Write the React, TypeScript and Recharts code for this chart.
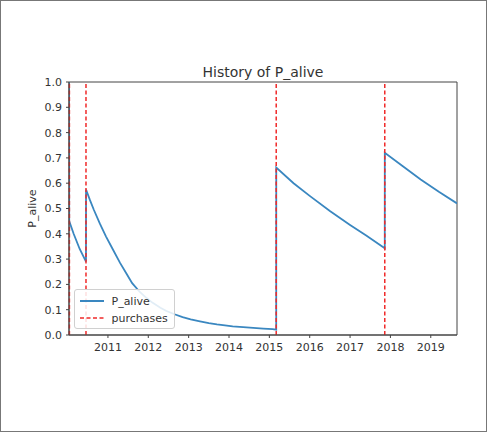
import {
  LineChart,
  Line,
  XAxis,
  YAxis,
  ReferenceLine,
  ReferenceArea,
  Label,
  Legend,
} from "recharts";

// dates in fractional years, P_alive
const dates = [
  2010.035, 2010.04, 2010.15, 2010.3, 2010.456,
  2010.457, 2010.55, 2010.65, 2010.8, 2010.95, 2011.1, 2011.3, 2011.45,
  2011.6, 2011.79, 2011.95, 2012.1, 2012.3, 2012.45, 2012.65, 2012.85,
  2013.05, 2013.28, 2013.5, 2013.7, 2013.9, 2014.09, 2014.35, 2014.6,
  2014.85, 2015.08, 2015.17,
  2015.171, 2015.6, 2016.0, 2016.5, 2017.0, 2017.4, 2017.86,
  2017.861, 2018.3, 2018.75, 2019.2, 2019.65,
];
const pAlive = [
  1.0, 0.45, 0.4, 0.34, 0.29,
  0.575, 0.535, 0.495, 0.44, 0.39, 0.345, 0.285, 0.245,
  0.205, 0.17, 0.147, 0.128, 0.108, 0.095, 0.082, 0.071,
  0.062, 0.054, 0.047, 0.042, 0.038, 0.034, 0.031, 0.028,
  0.025, 0.023, 0.021,
  0.662, 0.6, 0.55, 0.49, 0.435, 0.393, 0.343,
  0.72, 0.668, 0.615, 0.566, 0.52,
];
const purchases = [2010.045, 2010.456, 2015.17, 2017.86];

const xTicks = [2011, 2012, 2013, 2014, 2015, 2016, 2017, 2018, 2019];
const yTicks = [0, 0.1, 0.2, 0.3, 0.4, 0.5, 0.6, 0.7, 0.8, 0.9, 1.0];
const xDomain = [2010.035, 2019.65];

const data = dates.map((d, i) => ({ date: d, p: pAlive[i] }));

const FONT = "'DejaVu Sans', sans-serif";
const BLUE = "#3a87c0";
const RED = "#f02a2a";

function LegendBox() {
  const row = { display: "flex", alignItems: "center", height: 17 };
  return (
    <div
      style={{
        border: "1px solid #d0d0d0",
        borderRadius: 3,
        background: "rgba(255,255,255,0.85)",
        padding: "3px 0 3px 5px",
        fontFamily: FONT,
        fontSize: 11,
        color: "#333",
        boxSizing: "border-box",
        width: 101,
        height: 40,
      }}
    >
      <div style={row}>
        <svg width={24} height={6} style={{ marginRight: 8 }}>
          <line x1={0} y1={3} x2={24} y2={3} stroke={BLUE} strokeWidth={2} />
        </svg>
        <span>P_alive</span>
      </div>
      <div style={row}>
        <svg width={24} height={6} style={{ marginRight: 8 }}>
          <line
            x1={0}
            y1={3}
            x2={24}
            y2={3}
            stroke={RED}
            strokeWidth={1.6}
            strokeDasharray="4 2.5"
          />
        </svg>
        <span>purchases</span>
      </div>
    </div>
  );
}

export default function App() {
  return (
    <div
      style={{
        position: "absolute",
        left: 0,
        top: 0,
        width: 487,
        height: 432,
        border: "1.5px solid #777",
        boxSizing: "border-box",
        background: "#fff",
      }}
    >
      <div style={{ position: "absolute", left: -1.5, top: -1.5 }}>
        <LineChart
          width={487}
          height={433}
          data={data}
          margin={{ top: 82, right: 30, left: 0, bottom: 0 }}
        >
          <XAxis
            dataKey="date"
            type="number"
            domain={xDomain}
            ticks={xTicks}
            allowDataOverflow
            height={98}
            tickSize={3}
            tickMargin={5}
            stroke="#444"
            tick={{ fill: "#333", fontSize: 11, fontFamily: FONT }}
          />
          <YAxis
            type="number"
            domain={[0, 1]}
            ticks={yTicks}
            width={69}
            tickSize={3}
            tickMargin={4}
            stroke="#444"
            tickFormatter={(v: number) => v.toFixed(1)}
            tick={{ fill: "#333", fontSize: 11, fontFamily: FONT }}
          >
            <Label
              value="P_alive"
              angle={-90}
              position="center"
              dx={-2}
              style={{ fill: "#333", fontSize: 11, fontFamily: FONT }}
            />
          </YAxis>
          <ReferenceArea
            x1={xDomain[0]}
            x2={xDomain[1]}
            y1={0}
            y2={1}
            fill="none"
            stroke="#444"
            strokeWidth={1}
            fillOpacity={0}
          >
            <Label
              value="History of P_alive"
              position="top"
              offset={5}
              style={{ fill: "#333", fontSize: 14, fontFamily: FONT }}
            />
          </ReferenceArea>
          <Line
            type="linear"
            dataKey="p"
            name="P_alive"
            stroke={BLUE}
            strokeWidth={1.8}
            dot={false}
            isAnimationActive={false}
          />
          {purchases.map((d) => (
            <ReferenceLine
              key={d}
              x={d}
              stroke={RED}
              strokeWidth={1.5}
              strokeDasharray="4 2.5"
            />
          ))}
          <Legend
            layout="vertical"
            align="center"
            verticalAlign="middle"
            wrapperStyle={{ left: 74, top: 289, width: 101, height: 40 }}
            content={() => <LegendBox />}
          />
        </LineChart>
      </div>
    </div>
  );
}
